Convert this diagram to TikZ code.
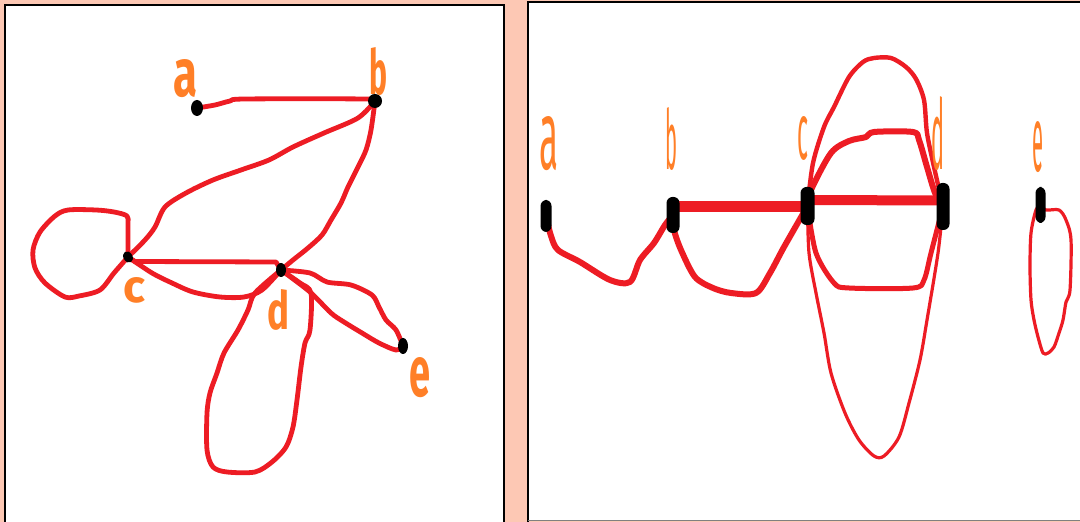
\documentclass[tikz,border=0pt]{standalone}
\usepackage{fontspec}
\setmainfont{Fira Sans}
\usetikzlibrary{shapes.geometric,calc}
\definecolor{bgsalmon}{RGB}{253,200,180}
\definecolor{pred}{RGB}{237,28,36}
\definecolor{porange}{RGB}{255,127,39}
\pgfdeclarelayer{back}
\pgfdeclarelayer{edges}
\pgfsetlayers{back,edges,main}
\begin{document}
\begin{tikzpicture}[x=0.5pt,y=-0.5pt,
  redline/.style={draw=pred,line width=2.4pt,line cap=round,line join=round},
  ldot/.style={ellipse,fill=black,inner sep=0pt},
  rdot/.style={rectangle,rounded corners=3pt,fill=black,inner sep=0pt},
  lbl/.style={text=porange,inner sep=0pt,font=\bfseries\fontsize{20}{20}\selectfont},
  rlbl/.style={text=porange,inner sep=0pt,font=\fontsize{20}{20}\selectfont}]
\useasboundingbox (0,0) rectangle (1080,522);
\clip (0,0) rectangle (1080,522);
\begin{pgfonlayer}{back}
\fill[bgsalmon] (0,0) rectangle (1080,522);
\filldraw[fill=white,draw=black,line width=1pt] (5,5) rectangle (503.5,540);
\fill[white] (527.5,2) rectangle (1090,520.5);
\draw[black,line width=1pt] (527.5,540) -- (527.5,2) -- (1090,2);
\draw[gray,line width=0.8pt] (527.5,520.5) -- (1090,520.5);
\end{pgfonlayer}

% ---------- left panel ----------
\node[ldot,minimum width=6pt,minimum height=8pt] (La) at (197,108) {};
\node[ldot,minimum width=7pt,minimum height=7pt] (Lb) at (375,101) {};
\node[ldot,minimum width=4.5pt,minimum height=6pt,rotate=30] (Lc) at (128,257) {};
\node[ldot,minimum width=5pt,minimum height=7pt] (Ld) at (281,270) {};
\node[ldot,minimum width=5pt,minimum height=8pt] (Le) at (403,346) {};

\node[lbl] (Lla) at (185,78.5) {\resizebox{12pt}{18.5pt}{a}};
\node[lbl] (Llb) at (378,71.5) {\resizebox{9pt}{23.5pt}{b}};
\node[lbl] (Llc) at (134.5,290.5) {\resizebox{11pt}{12.5pt}{c}};
\node[lbl] (Lld) at (278,310) {\resizebox{11pt}{20pt}{d}};
\node[lbl] (Lle) at (419.5,377.5) {\resizebox{10.5pt}{19.5pt}{e}};

% ---------- right panel ----------
\node[rdot,minimum width=5.5pt,minimum height=16pt] (Ra) at (546,216) {};
\node[rdot,minimum width=6.5pt,minimum height=18pt] (Rb) at (673,215) {};
\node[rdot,minimum width=7pt,minimum height=19pt] (Rc) at (807.5,206) {};
\node[rdot,minimum width=6.5pt,minimum height=23.5pt] (Rd) at (943,206.5) {};
\node[rdot,minimum width=5pt,minimum height=18pt] (Re) at (1040.5,205) {};

\node[rlbl] (Rla) at (549,143.5) {\resizebox{9.5pt}{26.5pt}{a}};
\node[rlbl] (Rlb) at (671.5,139) {\resizebox{6pt}{31pt}{b}};
\node[rlbl] (Rlc) at (803,138.5) {\resizebox{5.5pt}{21.5pt}{c}};
\node[rlbl] (Rld) at (938,133.5) {\resizebox{6.5pt}{36.5pt}{d}};
\node[rlbl] (Rle) at (1038,147) {\resizebox{5.5pt}{25pt}{e}};

\begin{pgfonlayer}{edges}
% left panel edges
\draw[redline] plot[smooth,tension=0.5] coordinates {(La.center) (215,105) (230,101) (245,99) (365,99) (Lb.center)};
\draw[redline] plot[smooth,tension=0.5] coordinates {(Lb.center) (358,118) (324,133) (293,147) (269,160) (241,170) (213,180) (186,193) (165,207) (155,227) (145,240) (Lc.center)};
\draw[redline] plot[smooth,tension=0.5] coordinates {(Lb.center) (371,130) (366,150) (358,167) (348,187) (341,203) (331,220) (322,235) (308,248) (293,260) (Ld.center)};
\draw[redline] (Lc.center) -- (135,261.5) -- (276,262) -- (Ld.center);
\draw[redline] plot[smooth,tension=0.5] coordinates {(Lc.center) (152,273) (172,283) (193,292) (220,297) (244,297) (262,290) (Ld.center)};
\draw[redline] plot[smooth,tension=0.5] coordinates {(Lc.center) (128,225) (127,216) (114,212) (96,210) (68,210) (55,216) (40,232) (33,250) (35,268) (45,283) (65,297) (79,296) (100,290) (114,273) (Lc.center)};
\draw[redline] plot[smooth,tension=0.5] coordinates {(Ld.center) (255,293) (248,310) (238,330) (224,353) (217,373) (210,393) (207,413) (207,450) (213,467) (227,472) (255,472) (272,462) (286,447) (293,427) (297,400) (301,367) (305,343) (310,330) (311,293) (300,283) (Ld.center)};
\draw[redline] plot[smooth,tension=0.5] coordinates {(Ld.center) (310,273) (327,282) (351,285) (372,295) (379,307) (386,320) (396,330) (Le.center)};
\draw[redline] plot[smooth,tension=0.5] coordinates {(Ld.center) (310,292) (331,313) (344,322) (362,333) (379,343) (396,350) (Le.center)};

% right panel edges
\draw[redline,line width=3pt] plot[smooth,tension=0.5] coordinates {(Ra.center) (551,236) (558,250) (580,262) (610,280) (630,282) (640,260) (654,243) (665,225) (Rb.center)};
\draw[redline,line width=5.5pt,line cap=butt] ($(Rb.center)+(0,-8)$) -- ($(Rc.center)+(0,1)$);
\draw[redline,line width=3pt] plot[smooth,tension=0.5] coordinates {(Rb.center) (674,230) (681,250) (695,277) (713,288) (731,293) (756,293) (770,273) (784,247) (Rc.center)};
\draw[redline,line width=5pt,line cap=butt] ($(Rc.center)+(0,-6)$) -- ($(Rd.center)+(0,-6)$);
\draw[redline,line width=3pt] plot[smooth,tension=0.5] coordinates {(Rc.center) (811,190) (831,153) (849,141) (866,137) (874,132) (913,132) (919,140) (927,167) (935,193) (Rd.center)};
\draw[redline,line width=2.2pt] plot[smooth,tension=0.5] coordinates {(Rc.center) (813,163) (824,127) (834,107) (849,77) (863,62) (874,58) (891,58) (906,67) (916,79) (924,100) (927,133) (934,167) (Rd.center)};
\draw[redline,line width=2.5pt] plot[smooth,tension=0.5] coordinates {(Rc.center) (816,253) (834,283) (849,288) (913,288) (924,280) (931,253) (Rd.center)};
\draw[redline,line width=1.6pt] plot[smooth,tension=0.5] coordinates {(Rc.center) (809,253) (816,293) (824,333) (831,373) (845,413) (859,440) (874,456) (884,456) (899,437) (909,403) (920,360) (927,320) (938,253) (Rd.center)};
\draw[redline,line width=1.6pt] plot[smooth,tension=0.5] coordinates {(Re.center) (1046,210) (1059,210) (1066,220) (1071,240) (1070,290) (1066,302) (1063,320) (1059,333) (1054,347) (1048,353) (1043,353) (1038,337) (1034,320) (1031,300) (1030,267) (1031,233) (1036,210) (Re.center)};
\end{pgfonlayer}
\end{tikzpicture}
\end{document}
